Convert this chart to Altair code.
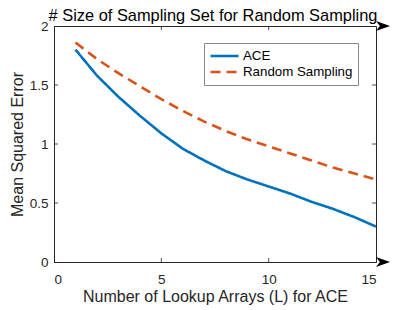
import altair as alt
import pandas as pd

L = list(range(1, 16))
ace = [1.80, 1.58, 1.40, 1.24, 1.09, 0.96, 0.86, 0.77, 0.70, 0.64, 0.58, 0.51, 0.45, 0.38, 0.30]
rnd = [1.86, 1.72, 1.60, 1.49, 1.38, 1.28, 1.19, 1.11, 1.04, 0.98, 0.92, 0.86, 0.80, 0.75, 0.70]
series = ["ACE", "Random Sampling"]
colors = ["#0072BD", "#D95319"]
x_ticks = [0, 5, 10, 15]
y_ticks = [0, 0.5, 1, 1.5, 2]
top_label = "# Size of Sampling Set for Random Sampling"

FONT = "Liberation Sans"
W, H = 322, 236

df = pd.DataFrame({
    "L": L * 2,
    "MSE": ace + rnd,
    "Method": [series[0]] * len(L) + [series[1]] * len(L),
})

xs = alt.Scale(domain=[0, 15], nice=False, zero=False)
ys = alt.Scale(domain=[0, 2], nice=False, zero=False)

lines = alt.Chart(df).mark_line(strokeWidth=2.6, clip=True).encode(
    x=alt.X("L:Q", scale=xs, axis=alt.Axis(
        values=x_ticks, title="Number of Lookup Arrays (L) for ACE", format="d",
        ticks=False, labelPadding=10, titlePadding=3, domainColor="#262626",
        labelColor="#262626", titleColor="#262626", labelFontSize=13.5,
        titleFontSize=16, labelFont=FONT, titleFont=FONT, titleFontWeight="normal", grid=False)),
    y=alt.Y("MSE:Q", scale=ys, axis=alt.Axis(
        values=y_ticks, title="Mean Squared Error", format="~g",
        ticks=False, labelPadding=6, titlePadding=4, domainColor="#262626",
        labelColor="#262626", titleColor="#262626", labelFontSize=13.5,
        titleFontSize=16, labelFont=FONT, titleFont=FONT, titleFontWeight="normal", grid=False)),
    color=alt.Color("Method:N", scale=alt.Scale(domain=series, range=colors),
                    legend=alt.Legend(title=None)),
    strokeDash=alt.StrokeDash("Method:N", scale=alt.Scale(domain=series, range=[[1, 0], [10, 6]]),
                              legend=alt.Legend(title=None)),
)

# inward tick marks (MATLAB style)
tx = pd.DataFrame({"v": [5, 10]})
ty = pd.DataFrame({"v": [0.5, 1, 1.5]})
tick_style = dict(color="#262626", strokeWidth=0.8)
bt = alt.Chart(tx).mark_rule(**tick_style).encode(x=alt.X("v:Q", scale=xs), y=alt.datum(0, scale=ys), y2=alt.datum(0.034))
tt = alt.Chart(tx).mark_rule(**tick_style).encode(x=alt.X("v:Q", scale=xs), y=alt.datum(2, scale=ys), y2=alt.datum(1.966))
lt = alt.Chart(ty).mark_rule(**tick_style).encode(y=alt.Y("v:Q", scale=ys), x=alt.datum(0, scale=xs), x2=alt.datum(0.19))
rt = alt.Chart(ty).mark_rule(**tick_style).encode(y=alt.Y("v:Q", scale=ys), x=alt.datum(15, scale=xs), x2=alt.datum(14.81))

arrow_path = "M-1,-0.7 L1,0 L-1,0.7 L-0.45,0 Z"
arrows = alt.Chart(pd.DataFrame({"yy": [0, 2]})).mark_point(
    shape=arrow_path, filled=True, color="#000000", opacity=1, size=196, xOffset=7
).encode(x=alt.datum(15, scale=xs), y=alt.Y("yy:Q", scale=ys))

# top axis label (MATLAB secondary x-axis label)
toplab = alt.Chart(pd.DataFrame({"t": [top_label]})).mark_text(
    font=FONT, fontSize=16.4, color="#000000", align="center", baseline="alphabetic", dy=-5
).encode(x=alt.value(W / 2 - 2), y=alt.value(0), text="t:N")

chart = alt.layer(lines, bt, tt, lt, rt, arrows, toplab).properties(
    width=W, height=H,
    autosize=alt.AutoSizeParams(type="none"),
    padding={"left": 46, "top": 18, "right": 30, "bottom": 50},
).configure_view(
    stroke="#262626", strokeWidth=1
).configure_legend(
    orient="none", legendX=150, legendY=17, fillColor="white", strokeColor="#888888",
    padding=5, symbolType="stroke", symbolSize=784, symbolStrokeWidth=2.6, clipHeight=16,
    rowPadding=0, labelFont=FONT, labelFontSize=13.3, labelColor="#000000", labelOffset=3,
    labelLimit=200
)

chart.save("out.html", embed_options={"renderer": "svg", "actions": False})
